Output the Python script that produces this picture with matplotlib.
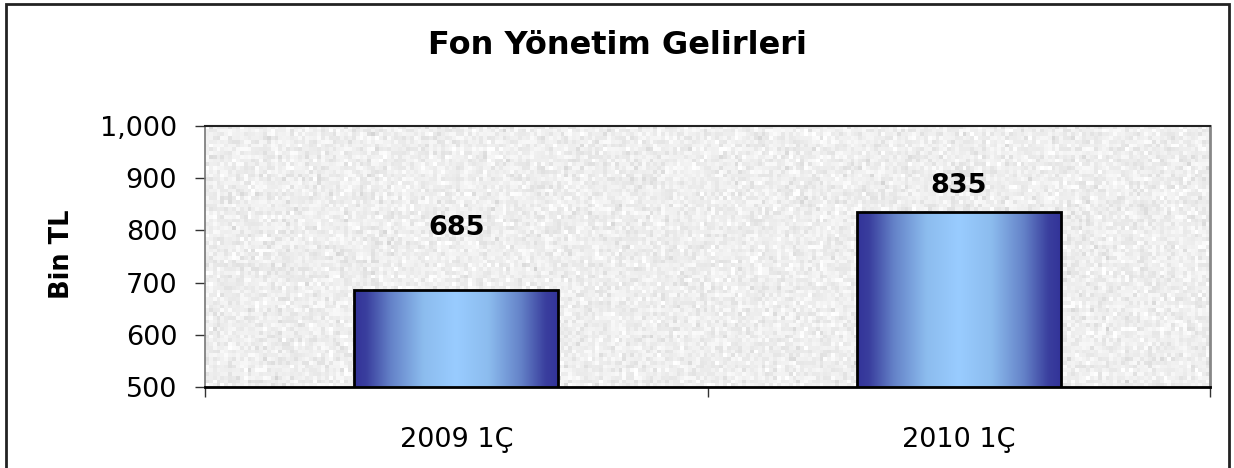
import numpy as np
import matplotlib
matplotlib.use("Agg")
import matplotlib.pyplot as plt
from matplotlib.colors import LinearSegmentedColormap
from matplotlib.patches import Rectangle
from matplotlib.ticker import FuncFormatter

# ---- data ----
categories = ["2009 1Ç", "2010 1Ç"]
values = [685, 835]
title = "Fon Yönetim Gelirleri"
ylabel = "Bin TL"
yticks = [500, 600, 700, 800, 900, 1000]

# ---- style ----
label_offsets_pt = [45, 19]
plt.rcParams['font.family'] = ['DejaVu Sans']

fig = plt.figure(figsize=(12.34, 4.68), dpi=100)
ax = fig.add_axes([205/1234, 81/468, 1005/1234, 261/468])

x = np.arange(len(categories))

# textured background
rng = np.random.default_rng(3)
noise = 0.935 + 0.03 * rng.standard_normal((70, 260))
noise = np.clip(noise, 0.82, 1.0)
ax.imshow(noise, cmap='gray', vmin=0, vmax=1, extent=[0, 1, 0, 1],
          transform=ax.transAxes, aspect='auto', interpolation='nearest', zorder=0)

# gradient bars
cmap = LinearSegmentedColormap.from_list('barg', [
    (0.0, '#333399'), (0.06, '#3a3f9e'), (0.18, '#6482c8'), (0.34, '#8cbcee'),
    (0.5, '#99ccff'), (0.66, '#8cbcee'), (0.82, '#6482c8'), (0.94, '#3a3f9e'),
    (1.0, '#333399')])
grad = np.linspace(0, 1, 256).reshape(1, -1)
bars = ax.bar(x, values, width=0.405, facecolor='none', edgecolor='black',
              linewidth=2, zorder=3)
for b in bars:
    bx, bw, bh = b.get_x(), b.get_width(), b.get_height()
    ax.imshow(grad, cmap=cmap, extent=[bx, bx + bw, yticks[0], bh],
              aspect='auto', interpolation='bilinear', zorder=2)

for xi, v, off in zip(x, values, label_offsets_pt):
    ax.annotate(f"{v}", xy=(xi, v), xytext=(0, off), textcoords='offset points',
                ha='center', va='center', fontsize=19.5, fontweight='bold', zorder=4)

ax.set_xlim(-0.5, len(categories) - 0.5)
ax.set_ylim(yticks[0], yticks[-1])

# axes styling
ax.spines['bottom'].set_color('black')
ax.spines['bottom'].set_linewidth(2)
ax.spines['top'].set_color('#222222')
ax.spines['top'].set_linewidth(1.5)
ax.spines['left'].set_color('#777777')
ax.spines['left'].set_linewidth(1.2)
ax.spines['right'].set_color('#888888')
ax.spines['right'].set_linewidth(2)
for s in ax.spines.values():
    s.set_zorder(5)

ax.set_yticks(yticks)
ax.yaxis.set_major_formatter(FuncFormatter(lambda v, p: f"{int(v):,}"))
ax.tick_params(axis='y', direction='out', length=7, width=1, color='#333333',
               labelsize=19.5, pad=13)

ax.set_xticks(np.arange(len(categories) + 1) - 0.5)
ax.set_xticklabels([])
ax.set_xticks(x, minor=True)
ax.set_xticklabels(categories, minor=True)
ax.tick_params(axis='x', which='major', direction='out', length=7, width=1, color='#333333')
ax.tick_params(axis='x', which='minor', length=0, labelsize=19.5, pad=29)

fig.text(0.5, (468 - 45) / 468, title, ha='center', va='center',
         fontsize=23, fontweight='bold')
fig.text(62 / 1234, (468 - 254) / 468, ylabel, rotation=90, ha='center',
         va='center', fontsize=18.5, fontweight='bold')

# outer border
fig.patches.append(Rectangle((5.5 / 1234, -0.05), 1223 / 1234, 1.05 - 4.5 / 468,
                             transform=fig.transFigure, fill=False,
                             edgecolor='#222222', linewidth=2))

fig.savefig('out.png', dpi=100)
